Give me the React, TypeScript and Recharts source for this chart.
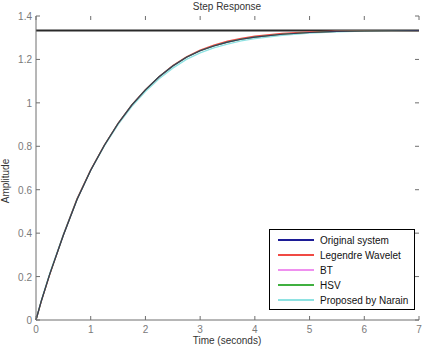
import React from "react"
import {
  LineChart,
  Line,
  XAxis,
  YAxis,
  ReferenceLine,
} from "recharts"

const time = [0, 0.1, 0.25, 0.5, 0.75, 1, 1.25, 1.5, 1.75, 2, 2.25, 2.5, 2.75, 3, 3.25, 3.5, 3.75, 4, 4.5, 5, 5.5, 6, 6.5, 7]
const original = [0, 0.09, 0.21, 0.39, 0.555, 0.69, 0.805, 0.905, 0.99, 1.06, 1.12, 1.17, 1.21, 1.24, 1.262, 1.28, 1.293, 1.303, 1.316, 1.324, 1.329, 1.331, 1.332, 1.333]
const legendre = [0, 0.088, 0.208, 0.392, 0.558, 0.692, 0.806, 0.906, 0.991, 1.061, 1.121, 1.172, 1.212, 1.243, 1.266, 1.284, 1.297, 1.307, 1.32, 1.327, 1.331, 1.332, 1.333, 1.333]
const bt = [0, 0.09, 0.21, 0.39, 0.555, 0.69, 0.805, 0.905, 0.99, 1.06, 1.12, 1.17, 1.21, 1.24, 1.262, 1.28, 1.293, 1.303, 1.316, 1.324, 1.329, 1.331, 1.332, 1.333]
const hsv = [0, 0.09, 0.21, 0.39, 0.555, 0.69, 0.805, 0.905, 0.99, 1.06, 1.12, 1.17, 1.21, 1.24, 1.262, 1.28, 1.293, 1.303, 1.316, 1.324, 1.329, 1.331, 1.332, 1.333]
const narain = [0, 0.092, 0.214, 0.395, 0.558, 0.69, 0.802, 0.9, 0.983, 1.052, 1.111, 1.16, 1.2, 1.23, 1.253, 1.271, 1.285, 1.296, 1.311, 1.321, 1.327, 1.33, 1.332, 1.333]
const steadyState = 1.3333

const xTicks = [0, 1, 2, 3, 4, 5, 6, 7]
const yTicks = [0, 0.2, 0.4, 0.6, 0.8, 1, 1.2, 1.4]

const series = [
  { key: "original", name: "Original system", color: "#1c1c96" },
  { key: "legendre", name: "Legendre Wavelet", color: "#f04a44" },
  { key: "bt", name: "BT", color: "#ef90ef" },
  { key: "hsv", name: "HSV", color: "#40b040" },
  { key: "narain", name: "Proposed by Narain", color: "#8ee2e2" },
]

const data = time.map((t, i) => ({
  t,
  original: original[i],
  legendre: legendre[i],
  bt: bt[i],
  hsv: hsv[i],
  narain: narain[i],
}))

const FONT = "'Liberation Sans', Arial, sans-serif"
const TOP = 16
const BOTTOM = 320
const LEFT = 36
const RIGHT = 419
const axisColor = "#6e6e6e"
const labelColor = "#7a7a7a"

function XTick(props: any) {
  const { x, payload } = props
  return (
    <g>
      <line x1={x} x2={x} y1={BOTTOM} y2={BOTTOM - 4} stroke={axisColor} />
      <line x1={x} x2={x} y1={TOP} y2={TOP + 4} stroke={axisColor} />
      <text x={x} y={BOTTOM + 13} textAnchor="middle" fontSize={10} fill={labelColor} fontFamily={FONT}>
        {payload.value}
      </text>
    </g>
  )
}

function YTick(props: any) {
  const { y, payload } = props
  return (
    <g>
      <line x1={LEFT} x2={LEFT + 4} y1={y} y2={y} stroke={axisColor} />
      <line x1={RIGHT} x2={RIGHT - 4} y1={y} y2={y} stroke={axisColor} />
      <text x={LEFT - 4} y={y + 4} textAnchor="end" fontSize={10} fill={labelColor} fontFamily={FONT}>
        {payload.value}
      </text>
    </g>
  )
}

// legend box, bottom right inside the axes
const LG_X = 269
const LG_Y = 229
function LegendBox() {
  return (
    <g>
      <rect x={LG_X + 0.5} y={LG_Y + 0.5} width={145} height={80} fill="#fff" stroke="#000" />
      {series.map((s, i) => (
        <g key={s.key}>
          <line x1={LG_X + 9} x2={LG_X + 45} y1={LG_Y + 11 + i * 15} y2={LG_Y + 11 + i * 15} stroke={s.color} strokeWidth={1.8} />
          <text x={LG_X + 51} y={LG_Y + 15 + i * 15} fontSize={10} fill="#111" fontFamily={FONT}>
            {s.name}
          </text>
        </g>
      ))}
    </g>
  )
}

export default function App() {
  return (
    <div style={{ position: "absolute", left: 0, top: 0, width: 425, height: 348, background: "#fff", overflow: "hidden" }}>
      <LineChart width={425} height={348} data={data} margin={{ top: TOP, right: 425 - RIGHT, bottom: 0, left: 6 }}>
        <XAxis
          dataKey="t"
          type="number"
          domain={[0, 7]}
          ticks={xTicks}
          tickLine={false}
          tick={<XTick />}
          axisLine={{ stroke: axisColor }}
          height={348 - BOTTOM}
        />
        <XAxis xAxisId="top" orientation="top" dataKey="t" type="number" domain={[0, 7]} tick={false} axisLine={{ stroke: axisColor }} height={0} />
        <YAxis
          type="number"
          domain={[0, 1.4]}
          ticks={yTicks}
          tickLine={false}
          tick={<YTick />}
          axisLine={{ stroke: axisColor }}
          width={LEFT - 6}
        />
        <YAxis yAxisId="right" orientation="right" type="number" domain={[0, 1.4]} tick={false} axisLine={{ stroke: axisColor }} width={0} />
        <ReferenceLine y={steadyState} stroke="#2a2a2a" strokeWidth={2} />
        <Line dataKey="narain" stroke={series[4].color} strokeWidth={1.3} dot={false} isAnimationActive={false} />
        <Line dataKey="bt" stroke={series[2].color} strokeWidth={1.2} dot={false} isAnimationActive={false} />
        <Line dataKey="legendre" stroke={series[1].color} strokeWidth={1.2} dot={false} isAnimationActive={false} />
        <Line dataKey="hsv" stroke={series[3].color} strokeWidth={1.2} dot={false} isAnimationActive={false} />
        <Line dataKey="original" stroke="#3a3a5a" strokeWidth={1.2} dot={false} isAnimationActive={false} />
        <LegendBox />
        <text x={227} y={10} textAnchor="middle" fontSize={10} fill="#333" fontFamily={FONT}>
          Step Response
        </text>
        <text x={227} y={344} textAnchor="middle" fontSize={10} fill="#333" fontFamily={FONT}>
          Time (seconds)
        </text>
        <text x={9} y={181} textAnchor="middle" fontSize={10} fill="#333" fontFamily={FONT} transform="rotate(-90 9 181)">
          Amplitude
        </text>
      </LineChart>
    </div>
  )
}
